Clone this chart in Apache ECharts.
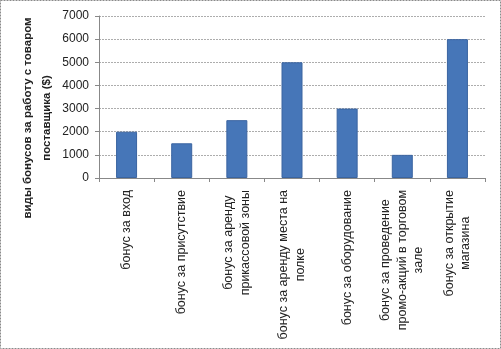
<!DOCTYPE html>
<html>
<head>
<meta charset="utf-8">
<script src="https://cdn.jsdelivr.net/npm/echarts@6/dist/echarts.min.js"></script>
<style>html,body{margin:0;padding:0;background:#fff}#c{width:501px;height:349px}</style>
</head>
<body>
<div id="c"></div>
<script>
const categories = ['бонус за вход','бонус за присутствие','бонус за аренду\nприкассовой зоны','бонус за аренду места на\nполке','бонус за оборудование','бонус за проведение\nпромо-акций в торговом\nзале','бонус за открытие\nмагазина'];
const values = [2000,1500,2500,5000,3000,1000,6000];
const yTicks = [0,1000,2000,3000,4000,5000,6000,7000];
const yName = 'виды бонусов за работу с товаром\nпоставщика ($)';

const chart = echarts.init(document.getElementById('c'), null, {renderer:'canvas'});
chart.setOption({
  animation:false,
  backgroundColor:'#fff',
  textStyle:{fontFamily:'Liberation Sans'},
  grid:{left:99,right:16,top:16,bottom:171,containLabel:false},
  xAxis:{
    type:'category', data:categories,
    axisLine:{lineStyle:{color:'#888'}},
    axisTick:{show:true,length:4,alignWithLabel:false,lineStyle:{color:'#888'}},
    axisLabel:{interval:0,rotate:90,margin:12,color:'#222',fontSize:12.5,lineHeight:16,
      formatter:function(v){return v.split('\n').map(function(l){return '{c|'+l+'}';}).join('\n');},
      rich:{c:{align:'center',fontSize:12.5,lineHeight:16.5,color:'#222',fontFamily:'Liberation Sans'}}}
  },
  yAxis:{
    type:'value', min:yTicks[0], max:yTicks[yTicks.length-1], interval:1000,
    axisLine:{show:true,lineStyle:{color:'#888'}},
    axisTick:{show:true,length:4,lineStyle:{color:'#888'}},
    axisLabel:{color:'#222',fontSize:12,margin:10,formatter:function(v){return String(v);}},
    splitLine:{lineStyle:{color:'#adadad',type:[2,1]}}
  },
  series:[{type:'bar',data:values,barWidth:21,
    itemStyle:{color:'#4676b8',borderColor:'#3a64a0',borderWidth:1}}],
  graphic:[
    {type:'rect',shape:{x:0.5,y:0.5,width:500,height:348},style:{fill:'none',stroke:'#8a8a8a',lineWidth:1,lineDash:[2,1]},silent:true},
    {type:'text',x:37,y:118,rotation:Math.PI/2,style:{text:yName,fontFamily:'Liberation Sans',fontSize:11.5,fontWeight:'bold',fill:'#222',align:'center',verticalAlign:'middle',lineHeight:19}}
  ]
});
</script>
</body>
</html>
